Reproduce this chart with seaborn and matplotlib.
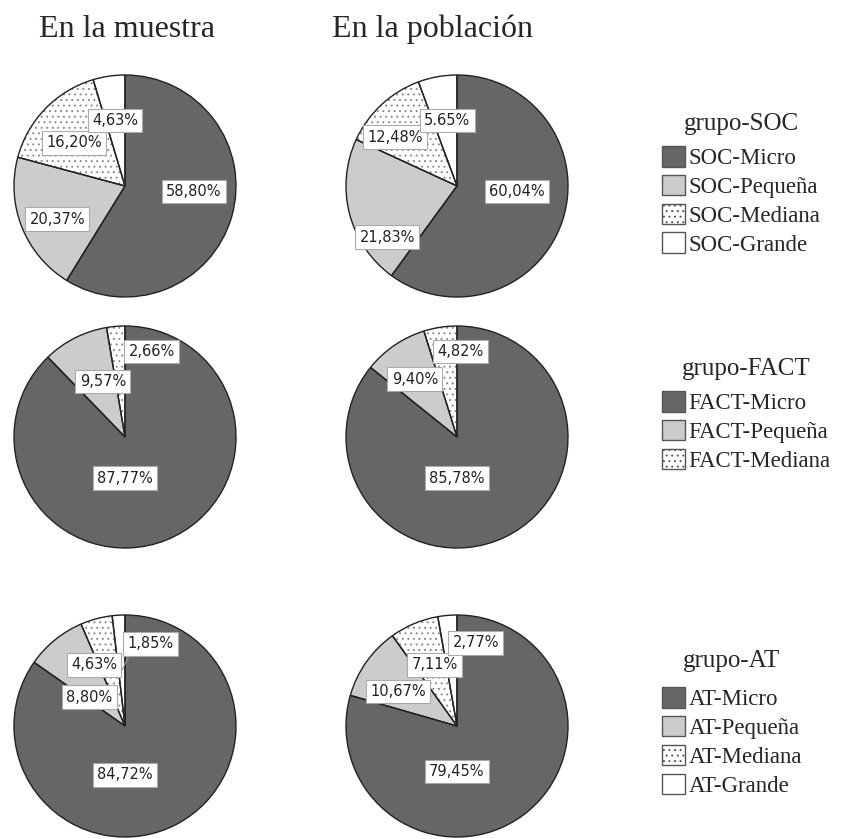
import matplotlib
matplotlib.use("Agg")
import matplotlib.pyplot as plt
from matplotlib.patches import Patch
import numpy as np
import seaborn as sns

# %%
# data (percentages, clockwise from 12 o'clock)
grupos = ["SOC", "FACT", "AT"]
tamanos = ["Micro", "Pequeña", "Mediana", "Grande"]

soc_muestra = [58.80, 20.37, 16.20, 4.63]
soc_poblacion = [60.04, 21.83, 12.48, 5.65]
fact_muestra = [87.77, 9.57, 2.66]
fact_poblacion = [85.78, 9.40, 4.82]
at_muestra = [84.72, 8.80, 4.63, 1.85]
at_poblacion = [79.45, 10.67, 7.11, 2.77]

columnas = ["En la muestra", "En la población"]

# %%
sns.set_theme(style="white")
plt.rcParams["font.family"] = ["DejaVu Sans"]
plt.rcParams["hatch.linewidth"] = 0.7

colores = ["#666666", "#cccccc", "white", "white"]
tramas = ["", "", "...", ""]

W, H = 841, 839
fig = plt.figure(figsize=(W / 100, H / 100), dpi=100)

# pie centres / radius in pixels
cx = [125, 457]
cy = [186, 437, 726]
r = 111

# label offsets (in radius units) relative to pie centre
label_xy = {
    (0, 0): [(0.62, -0.05), (-0.61, -0.30), (-0.46, 0.39), (-0.09, 0.59)],
    (0, 1): [(0.54, -0.05), (-0.63, -0.46), (-0.56, 0.44), (-0.09, 0.59)],
    (1, 0): [(0.0, -0.37), (-0.20, 0.50), (0.24, 0.77)],
    (1, 1): [(0.0, -0.37), (-0.38, 0.52), (0.03, 0.77)],
    (2, 0): [(0.0, -0.44), (-0.32, 0.26), (-0.28, 0.55), (0.23, 0.74)],
    (2, 1): [(0.0, -0.41), (-0.53, 0.31), (-0.20, 0.55), (0.17, 0.75)],
}
# small slices whose label gets a leader line
con_linea = [(2, 0, 3), (2, 1, 3)]

datos = [
    [soc_muestra, soc_poblacion],
    [fact_muestra, fact_poblacion],
    [at_muestra, at_poblacion],
]


def etiqueta(v, i, j, k):
    # the reference prints 5.65% with a point
    if (i, j, k) == (0, 1, 3):
        return f"{v:.2f}%"
    return f"{v:.2f}".replace(".", ",") + "%"


for i, fila in enumerate(datos):
    for j, valores in enumerate(fila):
        ax = fig.add_axes([(cx[j] - r) / W, 1 - (cy[i] + r) / H, 2 * r / W, 2 * r / H])
        n = len(valores)
        # fill (hatch drawn in grey), then outlines on top
        wedges, _ = ax.pie(valores, colors=colores[:n], startangle=90,
                           counterclock=False,
                           wedgeprops=dict(edgecolor="#8a8a8a", linewidth=0))
        for w, h in zip(wedges, tramas[:n]):
            w.set_hatch(h)
            w.set_clip_on(False)
        bordes, _ = ax.pie(valores, startangle=90, counterclock=False,
                           wedgeprops=dict(facecolor="none", edgecolor="#222222",
                                           linewidth=1.0))
        for w in bordes:
            w.set_clip_on(False)

        for k, v in enumerate(valores):
            x, y = label_xy[(i, j)][k]
            if (i, j, k) in con_linea:
                w = wedges[k]
                ang = np.deg2rad((w.theta1 + w.theta2) / 2)
                ax.plot([x - 0.18, 0.5 * np.cos(ang)], [y - 0.08, 0.5 * np.sin(ang)],
                        color="#999999", lw=0.8, zorder=3)
            ax.text(x, y, etiqueta(v, i, j, k), ha="center", va="center",
                    fontsize=10.5, color="#222222", zorder=4,
                    bbox=dict(boxstyle="square,pad=0.3", fc="white",
                              ec="#aaaaaa", lw=0.8))
        ax.set_xlim(-1, 1)
        ax.set_ylim(-1, 1)
        ax.axis("off")

# column titles
fig.text(127 / W, 1 - 37 / H, columnas[0], ha="center", va="baseline",
         fontsize=23, family="Liberation Serif")
fig.text(433 / W, 1 - 37 / H, columnas[1], ha="center", va="baseline",
         fontsize=23, family="Liberation Serif")

# legends on the right (title drawn separately, centred over the entries)
legend_top = [146, 391, 687]
titulo_base = [130, 375, 667]
leyendas = []
for i, g in enumerate(grupos):
    n = len(datos[i][0])
    handles = [Patch(facecolor=colores[k], edgecolor="#555555", hatch=tramas[k],
                     linewidth=1.0) for k in range(n)]
    labels = [f"{g}-{t}" for t in tamanos[:n]]
    leg = fig.legend(handles, labels, loc="upper left",
                     bbox_to_anchor=(662 / W, 1 - legend_top[i] / H),
                     frameon=False, borderpad=0, borderaxespad=0,
                     handlelength=1.0, handleheight=1.0, handletextpad=0.15,
                     labelspacing=0.25, prop={"family": "Liberation Serif", "size": 16.5})
    leyendas.append(leg)

fig.canvas.draw()
for i, g in enumerate(grupos):
    bb = leyendas[i].get_window_extent()
    xc = (bb.x0 + bb.x1) / 2 / W
    fig.text(xc, 1 - titulo_base[i] / H, f"grupo-{g}", ha="center", va="baseline",
             fontsize=18, family="Liberation Serif")

fig.savefig("out.png", dpi=100)
